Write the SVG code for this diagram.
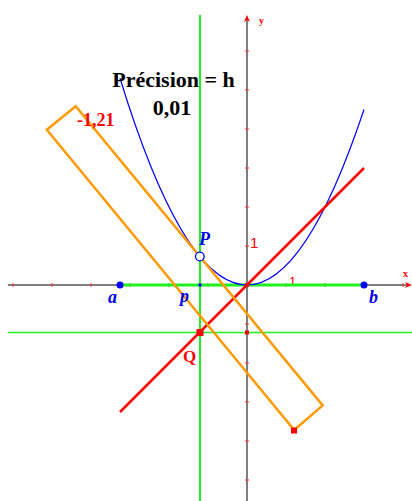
<svg xmlns="http://www.w3.org/2000/svg" width="412" height="501" viewBox="0 0 412 501">
<style>
.axis{stroke:#555;stroke-width:1.5;fill:none}
.tick{stroke:#ff3030;stroke-width:1}
.green{stroke:#1ff01f;fill:none}
.lbl{font-family:"Liberation Serif",serif;font-weight:bold}
.blue{fill:#0000ee;font-style:italic}
.red{fill:#ff0000}
</style>
<rect width="412" height="501" fill="#fff"/>
<g id="axes">
<line class="axis" x1="8" y1="285" x2="410" y2="285"/>
<line class="axis" x1="247" y1="501" x2="247" y2="17"/>
<path d="M247,15 L244,22 L247,20 L250,22 Z" fill="#ff0000"/>
<path d="M412,285 L405,282 L407,285 L405,288 Z" fill="#ff0000"/>
<g class="tick">
<path d="M13,283V287M52,283V287M91,283V287M130,283V287M169,283V287M208,283V287M286,283V287M325,283V287M364,283V287M403,283V287"/>
<path d="M245,51H249M245,90H249M245,129H249M245,168H249M245,207H249M245,246H249M245,324H249M245,363H249M245,402H249M245,441H249M245,480H249"/>
</g>
<text class="lbl red" x="259" y="24" font-size="10">y</text>
<text class="lbl red" x="403" y="277" font-size="10">x</text>
<text x="250" y="248" font-family="Liberation Sans,sans-serif" font-size="15" fill="#ff0000">1</text>
<text x="289" y="286" font-family="Liberation Sans,sans-serif" font-size="13" fill="#ff0000">1</text>
</g>
<g id="connectors">
<line class="green" x1="200" y1="15" x2="200" y2="501" stroke-width="2"/>
<line class="green" x1="8" y1="332.5" x2="412" y2="332.5" stroke-width="1.5"/>
<line class="green" x1="120" y1="285" x2="364" y2="285" stroke-width="3"/>
<path d="M120,78.3 Q242,475.5 364,109.5" fill="none" stroke="#0000ff" stroke-width="1.2"/>
<line x1="120" y1="412" x2="364" y2="168" stroke="#ff0000" stroke-width="2.5"/>
<polygon points="75.7,106.3 322.7,405.4 294.2,430 46.8,129.8" fill="none" stroke="#ff9900" stroke-width="2.5"/>
</g>
<g id="point-a"><circle cx="120" cy="285" r="3.5" fill="#0000ff"/><text class="lbl blue" x="108" y="303" font-size="18">a</text></g>
<g id="point-b"><circle cx="364" cy="285" r="3.5" fill="#0000ff"/><text class="lbl blue" x="369" y="303" font-size="18">b</text></g>
<g id="point-p"><rect x="198.5" y="283.5" width="3" height="3" fill="#0000ff"/><text class="lbl blue" x="180" y="302" font-size="18">p</text></g>
<g id="point-P"><circle cx="199.8" cy="256.5" r="4.3" fill="#fff" stroke="#0000ff" stroke-width="1.3"/><text class="lbl blue" x="199" y="245" font-size="18">P</text></g>
<g id="point-Q"><rect x="196.5" y="329" width="7" height="7" fill="#ff0000"/><text class="lbl red" x="183" y="362" font-size="17">Q</text></g>
<g id="point-O"><rect x="245" y="283" width="4" height="4" fill="#ff0000"/></g>
<g id="point-Y"><rect x="245" y="330.5" width="4" height="4" fill="#ff0000"/></g>
<g id="point-R"><rect x="291" y="427.5" width="6" height="6" fill="#ff0000"/></g>
<g id="slope"><text class="lbl red" x="77" y="126" font-size="18">-1,21</text></g>
<g id="title">
<text class="lbl" x="173.5" y="87" font-size="22" text-anchor="middle" fill="#000">Précision = h</text>
<text class="lbl" x="172" y="115" font-size="22" text-anchor="middle" fill="#000">0,01</text>
</g>
</svg>
